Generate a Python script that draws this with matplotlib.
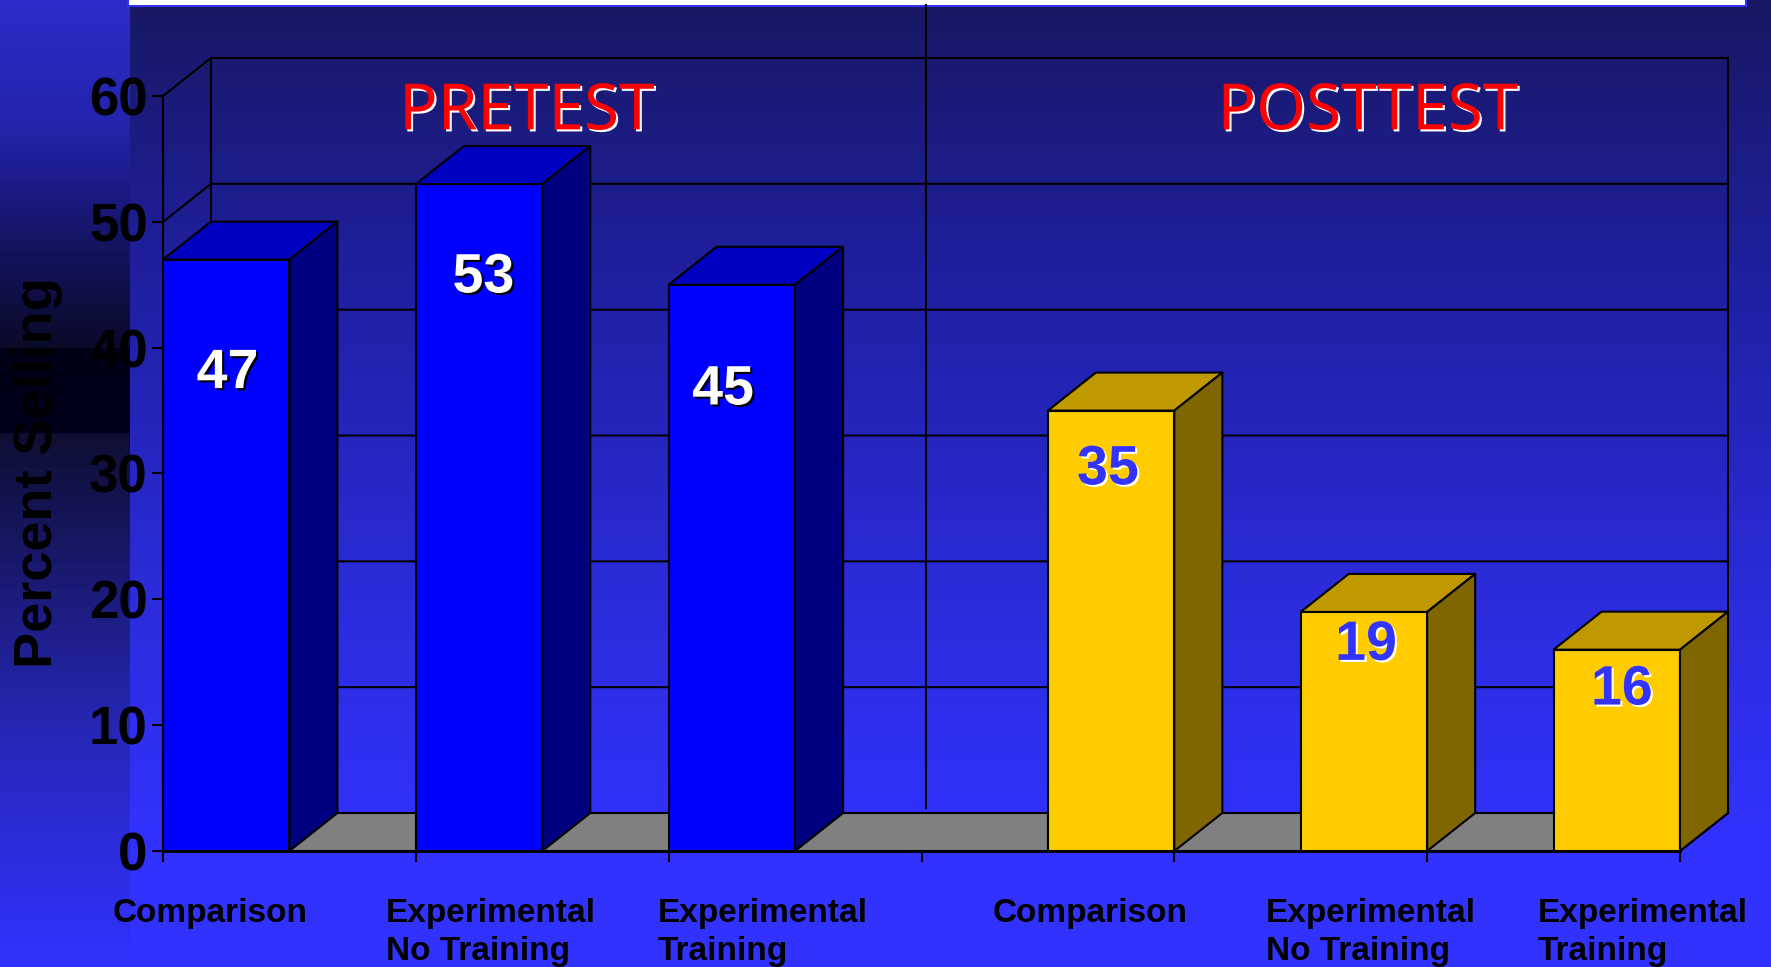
import numpy as np
import matplotlib
matplotlib.use('Agg')
import matplotlib.pyplot as plt
from matplotlib.patches import Polygon
import matplotlib.patheffects as pe

groups = ['PRETEST', 'POSTTEST']
categories = ['Comparison', 'Experimental\nNo Training', 'Experimental\nTraining',
              'Comparison', 'Experimental\nNo Training', 'Experimental\nTraining']
values = [47, 53, 45, 35, 19, 16]
bar_lefts = [0, 1, 2, 3.5, 4.5, 5.5]
yticks = [0, 10, 20, 30, 40, 50, 60]

W, H = 1771, 967
# colours of the bars: front, top, side
blue = ['#0000ff', '#0000c0', '#000080']
yellow = ['#ffcc00', '#c09900', '#806600']

plt.rcParams['font.family'] = ['Liberation Sans', 'DejaVu Sans']
fig = plt.figure(figsize=(W / 100, H / 100), dpi=100)

# background, built from vertical colour stops
def gradient(stops):
    ys = [s[0] for s in stops]
    col = np.array([s[1] for s in stops], dtype=float) / 255
    rows = np.arange(H)
    return np.stack([np.interp(rows, ys, col[:, i]) for i in range(3)], axis=1)[:, None, :]

bg = fig.add_axes([0, 0, 1, 1], zorder=0)
bg.axis('off')
main_bg = gradient([(0, (24, 24, 100)), (300, (32, 32, 165)), (600, (44, 44, 220)), (850, (50, 50, 255)), (967, (50, 50, 255))])
left_bg = gradient([(0, (44, 44, 200)), (120, (36, 36, 175)), (240, (20, 20, 100)), (347, (10, 10, 40)),
                    (348, (0, 0, 22)), (432, (0, 0, 28)), (433, (14, 14, 50)), (600, (28, 28, 125)),
                    (750, (40, 40, 190)), (967, (50, 50, 255))])
bg.imshow(main_bg, extent=(130, W, H, 0), aspect='auto', zorder=0)
bg.imshow(left_bg, extent=(0, 130, H, 0), aspect='auto', zorder=0)
bg.set_xlim(0, W)
bg.set_ylim(H, 0)
# white box cut off at the top
bg.fill_between([127, 1747], 0, 7, color='#3333ff', lw=0, zorder=1)
bg.fill_between([129, 1745], 0, 5, color='white', lw=0, zorder=2)
# line splitting pretest and posttest
bg.plot([926, 926], [5, 808], color='black', lw=1.5, zorder=3)

# plot axes: one x unit is a category slot, front plane 163..1680, y 0 at 851, 60 at 96
ax = fig.add_axes([163 / W, 1 - 851 / H, (1680 - 163) / W, (851 - 96) / H], zorder=1)
ax.patch.set_alpha(0)
ax.set_xlim(0, 6)
ax.set_ylim(0, 60)
for s in ax.spines.values():
    s.set_visible(False)
ax.spines['left'].set_visible(True)
ax.spines['left'].set_linewidth(1.5)
ax.spines['bottom'].set_visible(True)
ax.spines['bottom'].set_linewidth(2)
ax.spines['bottom'].set_zorder(20)
ax.spines['left'].set_zorder(20)

dx = 48 / ((1680 - 163) / 6)
dy = 38 / ((851 - 96) / 60)
bw = 0.5
lw = 1.5
kw = dict(clip_on=False, ec='black', lw=lw, joinstyle='round')

# floor
ax.add_patch(Polygon([(0, 0), (dx, dy), (6 + dx, dy), (6, 0)], fc='#808080', zorder=1, **kw))
# walls and grid
for v in yticks[1:]:
    ax.plot([0, dx, 6 + dx], [v, v + dy, v + dy], color='black', lw=lw, clip_on=False, zorder=1)
ax.plot([dx, dx], [dy, 60 + dy], color='black', lw=lw, clip_on=False, zorder=1)
ax.plot([6 + dx, 6 + dx], [dy, 60 + dy], color='black', lw=lw, clip_on=False, zorder=1)

# bars
for i, (x, v) in enumerate(zip(bar_lefts, values)):
    c = blue if i < 3 else yellow
    ax.add_patch(Polygon([(x, 0), (x + bw, 0), (x + bw, v), (x, v)], fc=c[0], zorder=3 + i, **kw))
    ax.add_patch(Polygon([(x, v), (x + dx, v + dy), (x + bw + dx, v + dy), (x + bw, v)], fc=c[1], zorder=3 + i, **kw))
    ax.add_patch(Polygon([(x + bw, 0), (x + bw + dx, dy), (x + bw + dx, v + dy), (x + bw, v)], fc=c[2], zorder=3 + i, **kw))

# value labels
label_y = [37.9, 45.5, 36.6, 30.25, 16.3, 12.75]
label_x = [0.255, 1.267, 2.215, 3.737, 4.758, 5.77]
for i, (lx, ly, v) in enumerate(zip(label_x, label_y, values)):
    fg, shadow = ('white', 'black') if i < 3 else ('#3333ff', 'white')
    ax.text(lx, ly, str(v), color=fg, fontsize=40, fontweight='bold', ha='center', va='center', zorder=12,
            path_effects=[pe.withSimplePatchShadow(offset=(1.5, -1.5), shadow_rgbFace=shadow, alpha=1)])

# group titles
title_x = [1.44, 4.766]
for name, tx in zip(groups, title_x):
    ax.text(tx, 58.7, name, color='red', fontsize=46, family=['Noto Sans', 'DejaVu Sans'], ha='center', va='center', zorder=12,
            path_effects=[pe.withSimplePatchShadow(offset=(1.5, -1.5), shadow_rgbFace='white', alpha=1)])

ax.set_yticks(yticks)
ax.set_yticklabels(yticks, fontsize=38, fontweight='bold', color='black')
ax.set_xticks(range(7))
ax.set_xticklabels([])
ax.tick_params(axis='y', length=8, width=1.5, pad=3)
ax.tick_params(axis='x', length=8, width=1.5)

cat_x = [-0.198, 0.882, 1.958, 3.283, 4.363, 5.438]
for name, cx in zip(categories, cat_x):
    ax.text(cx, -3.7, name, fontsize=24, fontweight='bold', ha='left', va='top', linespacing=1.3, clip_on=False)

fig.text(38 / W, 1 - 473 / H, 'Percent Selling', rotation=90, fontsize=39, fontweight='bold', ha='center', va='center', zorder=5)

fig.savefig('out.png', dpi=100)
